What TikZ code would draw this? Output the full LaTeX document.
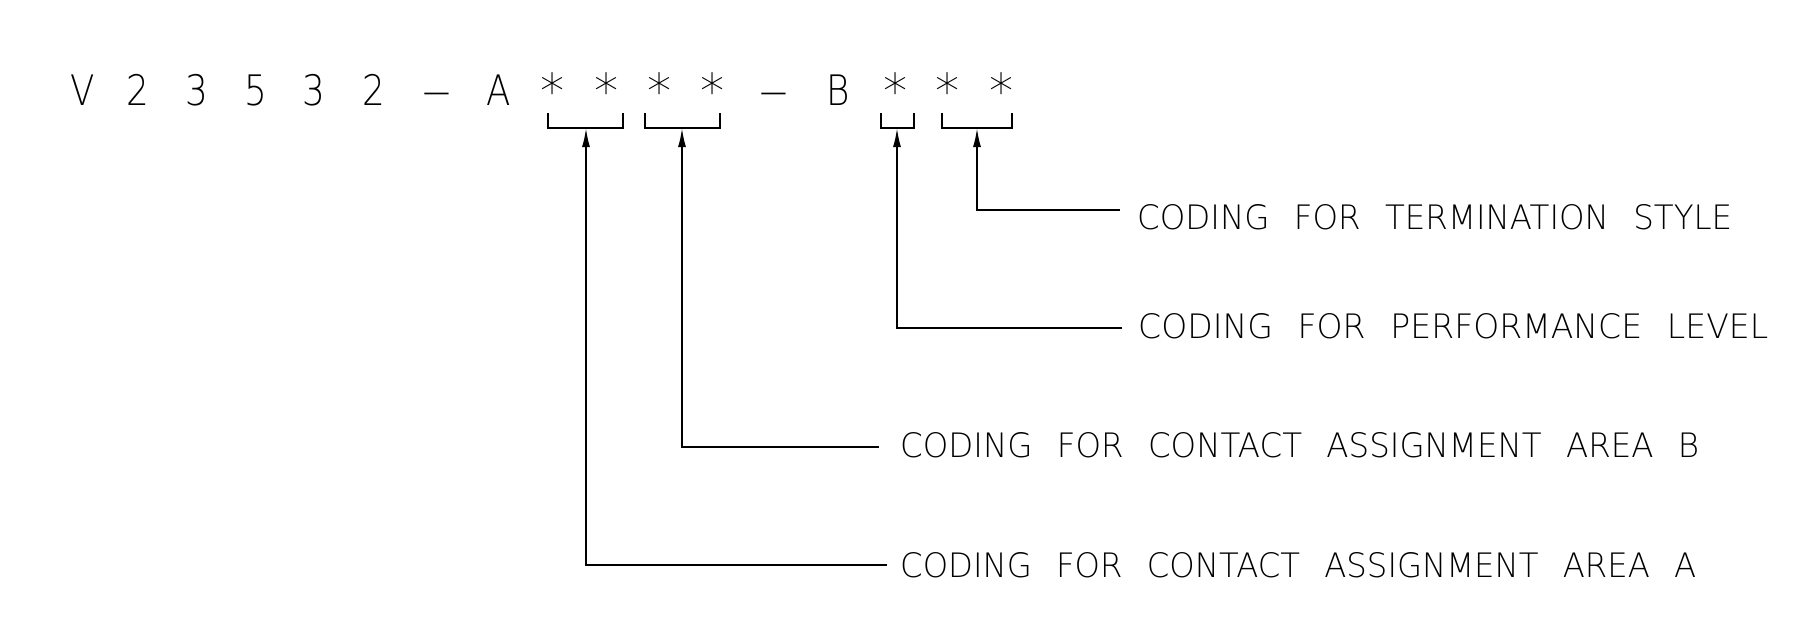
\documentclass[tikz,border=0pt]{standalone}
\usepackage{fontspec}
\usepackage{graphicx}
\usetikzlibrary{arrows.meta}
\newfontfamily\thinfont{DejaVu Sans ExtraLight}
\newcommand\cch[1]{\scalebox{0.85}[1]{\fontsize{42pt}{42pt}\thinfont #1}}
\newcommand\cstar{\raisebox{-3pt}{\scalebox{1.15}{\fontsize{42pt}{42pt}\thinfont *}}}
\newcommand\cdash{\scalebox{0.64}[1]{\fontsize{42pt}{42pt}\thinfont —}}
\newcommand\ws{\hspace{0.75em}}
\newcommand\lbl[2]{\resizebox{#1pt}{25pt}{\fontsize{34pt}{34pt}\thinfont #2}}
\begin{document}
\begin{tikzpicture}[x=1pt,y=-1pt,
  codech/.style={anchor=base,inner sep=0pt},
  lbltext/.style={anchor=base west,inner sep=0pt},
  brk/.style={line width=1.8pt,line join=miter},
  lead/.style={line width=1.8pt,-{Latex[length=19pt,width=8pt]}}]
\useasboundingbox (0,0) rectangle (1797,637);
\fill[white] (0,0) rectangle (1797,637);
% code line
\node[codech] (c1) at (83,105) {\cch{V}};
\node[codech] (c2) at (138,105) {\cch{2}};
\node[codech] (c3) at (197,105) {\cch{3}};
\node[codech] (c4) at (256,105) {\cch{5}};
\node[codech] (c5) at (314,105) {\cch{3}};
\node[codech] (c6) at (374,105) {\cch{2}};
\node[codech] (c7) at (437,105) {\cdash};
\node[codech] (c8) at (499,105) {\cch{A}};
\node[codech] (c9) at (553,105) {\cstar};
\node[codech] (c10) at (607,105) {\cstar};
\node[codech] (c11) at (660,105) {\cstar};
\node[codech] (c12) at (713,105) {\cstar};
\node[codech] (c13) at (774,105) {\cdash};
\node[codech] (c14) at (838,105) {\cch{B}};
\node[codech] (c15) at (896,105) {\cstar};
\node[codech] (c16) at (948,105) {\cstar};
\node[codech] (c17) at (1002,105) {\cstar};
% brackets
\draw[brk] (548,113) -- (548,128) -- (623,128) -- (623,113);
\draw[brk] (645,113) -- (645,128) -- (720,128) -- (720,113);
\draw[brk] (881,113) -- (881,128) -- (914,128) -- (914,113);
\draw[brk] (942,113) -- (942,128) -- (1012,128) -- (1012,113);
\coordinate (bA) at (586,128);
\coordinate (bB) at (682,128);
\coordinate (bP) at (897,128);
\coordinate (bT) at (977,128);
% labels
\node[lbltext] (tT) at (1137,229.5) {\lbl{595}{CODING\ws FOR\ws TERMINATION\ws STYLE}};
\node[lbltext] (tP) at (1138,338.5) {\lbl{630}{CODING\ws FOR\ws PERFORMANCE\ws LEVEL}};
\node[lbltext] (tB) at (900,457.5) {\lbl{799}{CODING\ws FOR\ws CONTACT\ws ASSIGNMENT\ws AREA\ws B}};
\node[lbltext] (tA) at (900,577.5) {\lbl{796}{CODING\ws FOR\ws CONTACT\ws ASSIGNMENT\ws AREA\ws A}};
\coordinate (eT) at (1120,210);
\coordinate (eP) at (1122,328);
\coordinate (eB) at (879,447);
\coordinate (eA) at (887,565);
% leaders
\draw[lead] (eT) -| (bT);
\draw[lead] (eP) -| (bP);
\draw[lead] (eB) -| (bB);
\draw[lead] (eA) -| (bA);
\end{tikzpicture}
\end{document}
